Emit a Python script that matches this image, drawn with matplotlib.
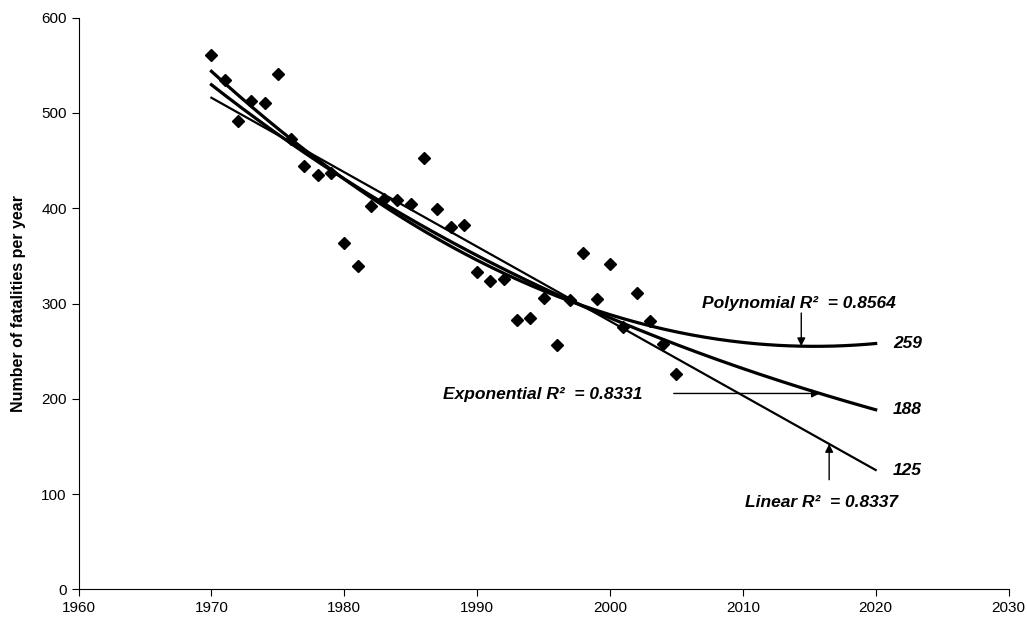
import numpy as np
import matplotlib.pyplot as plt

plt.rcParams['font.family'] = ['Liberation Sans', 'DejaVu Sans']

years = np.arange(1970, 2006)
fatalities = [561, 535, 492, 513, 511, 541, 473, 444, 435, 437,
              363, 339, 402, 410, 409, 404, 453, 399, 380, 382,
              333, 324, 326, 283, 285, 306, 256, 304, 353, 305,
              342, 275, 311, 282, 258, 226]

# trend labels shown on the chart
r2_text = {"poly": "Polynomial R\u00b2  = 0.8564",
           "exp": "Exponential R\u00b2  = 0.8331",
           "lin": "Linear R\u00b2  = 0.8337"}
end_labels = ["259", "188", "125"]

x = np.array(years, dtype=float)
y = np.array(fatalities, dtype=float)

# trend lines, fitted like a spreadsheet does
lin = np.poly1d(np.polyfit(x, y, 1))
quad = np.poly1d(np.polyfit(x, y, 2))
b, a = np.polyfit(x, np.log(y), 1)
expf = lambda t: np.exp(a + b * t)

xt = np.linspace(1970, 2020, 300)

fig = plt.figure(figsize=(10.27, 6.24), dpi=100)
ax = fig.add_axes([0.0765, 0.0556, 0.9055, 0.916])

ax.plot(x, y, linestyle='none', marker='D', ms=6.2, color='black')
ax.plot(xt, quad(xt), color='black', lw=2.3)
ax.plot(xt, expf(xt), color='black', lw=2.3)
ax.plot(xt, lin(xt), color='black', lw=1.6)

tf = dict(fontsize=12.5, fontweight='bold', fontstyle='italic')
ax.text(2006.9, 300, r2_text["poly"], ha='left', va='center', **tf)
ax.text(1987.4, 204, r2_text["exp"], ha='left', va='center', **tf)
ax.text(2010.2, 91, r2_text["lin"], ha='left', va='center', **tf)

for lab, f in zip(end_labels, [quad, expf, lin]):
    ax.text(2021.3, f(2020), lab, ha='left', va='center', **tf)

ap = dict(arrowstyle='-|>', lw=1.0, color='black', mutation_scale=12,
          shrinkA=0, shrinkB=0)
ax.annotate('', xy=(2014.4, quad(2014.4)), xytext=(2014.4, 290), arrowprops=ap)
ax.annotate('', xy=(2015.8, expf(2015.8)), xytext=(2004.8, expf(2015.8)), arrowprops=ap)
ax.annotate('', xy=(2016.5, lin(2016.5)), xytext=(2016.5, 115), arrowprops=ap)

ax.set_xlim(1960, 2030)
ax.set_ylim(0, 600)
ax.set_xticks(range(1960, 2031, 10))
ax.set_yticks(range(0, 601, 100))
ax.tick_params(labelsize=11, length=5, width=0.8, direction='out')
ax.spines['top'].set_visible(False)
ax.spines['right'].set_visible(False)
ax.set_ylabel("Number of fatalities per year", fontsize=11.5, fontweight='bold', labelpad=11)

fig.savefig('out.png', dpi=100)
